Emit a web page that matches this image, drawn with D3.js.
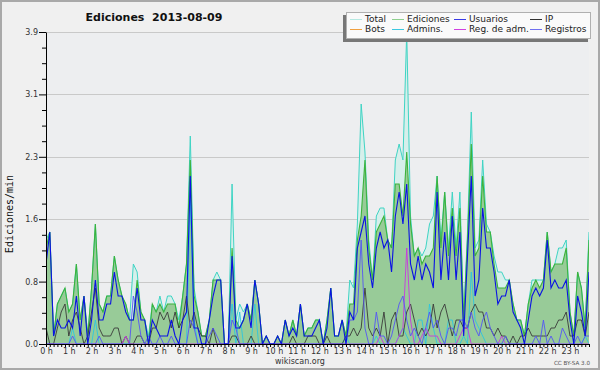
<!DOCTYPE html>
<html><head><meta charset="utf-8">
<script src="https://cdn.jsdelivr.net/npm/d3@7"></script>
<style>html,body{margin:0;padding:0;background:#f0f0f0;} svg{display:block;}</style>
</head><body><svg id="c" width="600" height="370"></svg>
<script>
// ---- data (edits per minute, 10-minute buckets, 144 per day) ----
const hourLabels = ["0 h","1 h","2 h","3 h","4 h","5 h","6 h","7 h","8 h","9 h","10 h","11 h","12 h","13 h","14 h","15 h","16 h","17 h","18 h","19 h","20 h","21 h","22 h","23 h"];
const yTickValues = [0, 0.78, 1.56, 2.34, 3.12, 3.9];
const yMinorValues = [0.195, 0.39, 0.585, 0.975, 1.17, 1.365, 1.755, 1.95, 2.145, 2.535, 2.73, 2.925, 3.315, 3.51, 3.705];
const legendNames = ["Total","Ediciones","Usuarios","IP","Bots","Admins.","Reg. de adm.","Registros"];
const legendColors = ["#b6e9e2","#8fd08f","#3a3ae6","#333333","#f0a040","#3cc8e0","#d040e0","#7070f0"];

const total = [
1.3,1.4,0.1,0.5,0.6,0.7, 0.4,0.5,1.0,0.3,0.6,0.1, 0.7,1.5,0.5,0.4,0.6,0.6, 1.1,0.8,0.6,0.5,0.3,1.0,
0.9,0.4,0.3,0.1,0.5,0.4, 0.6,0.4,0.6,0.6,0.5,0.3, 0.6,1.0,2.6,0.7,0.4,0.1, 0.1,0.3,0.8,0.9,0.8,0.0,
0.0,2.0,0.3,0.5,0.4,0.5, 0.3,0.8,0.5,0.0,0.1,0.0, 0.0,0.1,0.0,0.3,0.1,0.3, 0.1,0.5,0.1,0.2,0.2,0.3,
0.3,0.0,0.3,0.7,0.1,0.1, 0.3,0.1,0.8,0.7,1.5,3.0, 2.4,1.3,0.8,1.6,1.7,1.7, 1.3,1.2,2.3,2.5,2.3,3.9,
1.6,1.1,1.2,1.1,1.2,1.5, 1.6,2.1,1.3,1.9,1.2,1.9, 1.2,1.9,0.3,1.4,2.9,1.2, 1.3,2.3,1.5,1.4,1.1,0.9,
0.9,0.8,0.8,0.5,0.3,0.3, 0.1,0.5,0.8,0.8,0.8,0.8, 1.4,0.9,1.0,1.2,1.2,1.3, 0.4,0.1,0.9,0.7,0.2,1.4];
const ediciones = [
1.2,1.4,0.1,0.5,0.6,0.7, 0.4,0.5,1.0,0.3,0.6,0.1, 0.7,1.5,0.5,0.4,0.6,0.6, 1.1,0.8,0.6,0.5,0.3,0.3,
0.8,0.4,0.3,0.0,0.5,0.4, 0.5,0.4,0.5,0.5,0.5,0.2, 0.6,1.0,2.3,0.6,0.4,0.1, 0.1,0.3,0.8,0.8,0.8,0.0,
0.0,1.2,0.3,0.2,0.3,0.5, 0.3,0.8,0.5,0.0,0.1,0.0, 0.0,0.1,0.0,0.3,0.1,0.3, 0.1,0.5,0.1,0.2,0.2,0.3,
0.3,0.0,0.3,0.7,0.1,0.1, 0.3,0.1,0.5,0.5,1.3,1.6, 2.3,1.2,0.8,1.4,1.5,1.6, 1.3,1.2,2.0,2.0,1.6,2.4,
1.5,1.1,1.2,1.0,1.1,1.1, 1.2,2.1,1.2,1.9,1.1,1.7, 1.1,1.7,0.3,1.3,2.5,1.1, 1.2,2.1,1.4,1.4,1.0,0.7,
0.7,0.7,0.8,0.5,0.3,0.3, 0.1,0.5,0.7,0.8,0.7,0.8, 1.4,0.9,1.0,1.0,1.0,1.2, 0.4,0.1,0.9,0.7,0.2,1.3];
const usuarios = [
1.0,1.4,0.1,0.3,0.2,0.2, 0.3,0.2,0.6,0.1,0.6,0.0, 0.3,0.8,0.3,0.3,0.5,0.5, 0.9,0.6,0.6,0.4,0.3,0.3,
0.7,0.3,0.3,0.0,0.3,0.2, 0.1,0.1,0.1,0.3,0.1,0.0, 0.3,0.4,2.1,0.2,0.2,0.0, 0.0,0.3,0.6,0.8,0.8,0.0,
0.0,1.1,0.2,0.2,0.3,0.5, 0.2,0.8,0.5,0.0,0.1,0.0, 0.0,0.1,0.0,0.3,0.1,0.2, 0.1,0.5,0.1,0.1,0.1,0.2,
0.3,0.0,0.2,0.7,0.1,0.1, 0.3,0.0,0.4,0.3,1.2,1.4, 1.6,1.0,0.7,1.2,1.4,1.2, 1.3,0.9,1.6,1.9,1.5,2.0,
1.0,0.8,1.1,0.8,1.0,0.9, 0.7,1.9,0.8,1.4,0.8,1.6, 0.8,1.4,0.1,1.1,2.1,0.6, 0.8,1.7,1.2,1.2,0.9,0.5,
0.6,0.6,0.8,0.4,0.3,0.2, 0.0,0.3,0.6,0.7,0.6,0.7, 1.3,0.7,0.8,0.7,0.7,0.8, 0.3,0.0,0.6,0.4,0.1,0.9];
const ip = [
0.2,0.0,0.0,0.2,0.4,0.5, 0.1,0.3,0.4,0.2,0.0,0.1, 0.4,0.7,0.2,0.1,0.1,0.1, 0.2,0.2,0.0,0.1,0.0,0.0,
0.1,0.1,0.0,0.0,0.2,0.2, 0.4,0.3,0.4,0.2,0.4,0.2, 0.3,0.6,0.2,0.4,0.2,0.1, 0.1,0.0,0.2,0.0,0.0,0.0,
0.0,0.1,0.1,0.0,0.0,0.0, 0.1,0.0,0.0,0.0,0.0,0.0, 0.0,0.0,0.0,0.0,0.0,0.1, 0.0,0.0,0.0,0.1,0.1,0.1,
0.0,0.0,0.1,0.0,0.0,0.0, 0.0,0.1,0.1,0.2,0.1,0.2, 0.7,0.2,0.1,0.2,0.1,0.4, 0.0,0.3,0.4,0.1,0.1,0.4,
0.5,0.3,0.1,0.2,0.1,0.2, 0.5,0.2,0.4,0.5,0.3,0.1, 0.3,0.3,0.2,0.2,0.4,0.5, 0.4,0.4,0.2,0.2,0.1,0.2,
0.1,0.1,0.0,0.1,0.0,0.1, 0.1,0.2,0.1,0.1,0.1,0.1, 0.1,0.2,0.2,0.3,0.3,0.4, 0.1,0.1,0.3,0.3,0.1,0.4];
const admins = [
0,0,0,0,0,0, 0,0.2,0,0,0,0, 0,0.3,0,0,0,0, 0,0,0,0,0,0,
0,0,0,0,0,0, 0,0,0,0,0,0, 0,0,1.8,0.3,0,0, 0,0,0,0,0,0,
0,0.5,0,0.4,0,0, 0,0.5,0,0,0,0, 0,0,0,0,0,0, 0,0,0,0,0,0,
0,0,0,0,0,0, 0,0.1,0,0,0,0, 0,0,0,0.1,0,0, 0,0,0,0.1,0.2,0.1,
0,0,0.3,0.3,0,0.5, 0.2,0,0,0,0.3,0.3, 0,0,0.1,0,0.9,0.3, 0.2,0.1,0,0,0,0,
0,0,0,0,0,0, 0,0,0,0,0,0, 0,0,0,0,0,0, 0,0,0,0,0.1,0];
const registros = [
0,0,0,0,0,0, 0,0.1,0,0,0,0, 0,0,0.1,0,0,0, 0,0,0,0,0,0.6,
0.4,0.1,0,0.1,0,0, 0.1,0,0,0.1,0,0, 0,0,0.3,0.2,0,0, 0,0.1,0.2,0.1,0,0,
0,0.3,0.2,0,0,0, 0,0,0,0,0,0, 0,0,0,0,0,0, 0,0,0,0,0,0,
0,0,0,0,0,0, 0,0,0.3,0.3,0.4,1.3, 0.2,0,0,0.4,0.1,0.1, 0,0.1,0.3,0.5,0.6,0.3,
0.1,0.2,0.1,0,0.2,0.4, 0.2,0.3,0.1,0,0.2,0.2, 0.1,0.3,0.3,0.2,0.4,0.2, 0.1,0.3,0.4,0.2,0.1,0,
0,0.1,0,0,0,0, 0,0,0,0.1,0,0.3, 0,0.1,0,0,0.2,0.1, 0,0,0.1,0,0.1,0.1];
const regAdm = [
0,0,0,0,0,0, 0,0,0,0,0,0, 0,0,0,0,0,0, 0,0,0,0.1,0,0,
0,0,0,0,0,0, 0,0,0,0,0,0, 0,0,0,0,0,0, 0,0,0,0,0,0,
0,0,0,0,0,0, 0,0,0,0,0,0, 0,0,0,0,0,0, 0,0,0,0,0,0,
0,0,0,0,0,0, 0,0,0,0,0,0, 0,0,0,0,0.1,0, 0,0,0,0.1,0.2,1.2,
0.3,0,0,0.1,0.2,0.1, 0.1,0.1,0,0,0,0, 0,0.1,0.2,0.2,0,0, 0,0,0,0,0,0,
0.1,0,0,0,0,0, 0,0,0,0,0,0, 0,0,0,0,0,0, 0,0,0,0,0,0];

// ---- drawing ----
const svg = d3.select("#c");
const L = 46, R = 589, T = 32, B = 344;
const x = d3.scaleLinear().domain([0, total.length - 1]).range([L, R]);
const y = d3.scaleLinear().domain([0, 3.9]).range([B, T]);
const F = "'DejaVu Sans', Verdana, sans-serif";

svg.append("rect").attr("x",1).attr("y",1).attr("width",598).attr("height",368)
  .attr("fill","#f0f0f0").attr("stroke","#a9a9a9").attr("stroke-width",2);
svg.append("rect").attr("x",L).attr("y",T).attr("width",R-L).attr("height",B-T).attr("fill","#edeef0");

svg.append("defs").append("clipPath").attr("id","clip")
  .append("rect").attr("x",L).attr("y",T-1).attr("width",R-L).attr("height",B-T+1);

// gridlines
svg.append("g").selectAll("line").data(yTickValues.slice(1)).join("line")
  .attr("x1",L).attr("x2",R).attr("y1",d=>Math.round(y(d))+0.5).attr("y2",d=>Math.round(y(d))+0.5)
  .attr("stroke","#c9c9c9").attr("stroke-width",1);

const plot = svg.append("g").attr("clip-path","url(#clip)");
const area = d => d3.area().x((v,i)=>x(i)).y0(B).y1(v=>y(v))(d);
const line = d => d3.line().x((v,i)=>x(i)).y(v=>y(v))(d);

plot.append("path").attr("d",area(total)).attr("fill","#d6efeb");
plot.append("path").attr("d",area(ediciones)).attr("fill","#98cb98");
plot.append("path").attr("d",line(total)).attr("fill","none").attr("stroke","#3fd4c4").attr("stroke-width",1);
plot.append("path").attr("d",line(ediciones)).attr("fill","none").attr("stroke","#3cb33c").attr("stroke-width",1.1);
plot.append("path").attr("d",line(admins)).attr("fill","none").attr("stroke","#2cc6e0").attr("stroke-width",0.9);
plot.append("path").attr("d",line(ip)).attr("fill","none").attr("stroke","#3a3a3a").attr("stroke-width",0.9);
plot.append("path").attr("d",line(regAdm)).attr("fill","none").attr("stroke","#c838e0").attr("stroke-width",0.9);
plot.append("path").attr("d",line(registros)).attr("fill","none").attr("stroke","#5555f5").attr("stroke-width",0.9);
plot.append("path").attr("d",line(usuarios)).attr("fill","none").attr("stroke","#0a12e4").attr("stroke-width",1.1);

// axes
svg.append("g").attr("transform",`translate(${L},0)`)
  .call(d3.axisLeft(y).tickValues(yTickValues).tickSize(7).tickSizeOuter(0).tickPadding(1).tickFormat(d3.format(".1f")));
svg.append("g").attr("transform",`translate(${L},0)`)
  .call(d3.axisLeft(y).tickValues(yMinorValues).tickSize(4).tickSizeOuter(0).tickFormat(""))
  .select(".domain").remove();
svg.append("g").attr("transform",`translate(0,${B})`)
  .call(d3.axisBottom(x).tickValues(d3.range(total.length)).tickSize(3).tickSizeOuter(0).tickPadding(1)
    .tickFormat(i => i % 6 === 0 ? hourLabels[i/6] : ""));
svg.selectAll(".tick text").attr("font-family",F).attr("font-size",8).attr("fill","#333");
svg.selectAll(".domain, .tick line").attr("stroke","#000");

// titles
svg.append("text").attr("x",154).attr("y",21).attr("text-anchor","middle")
  .attr("font-family",F).attr("font-weight","bold").attr("font-size",11).attr("fill","#111")
  .text("Ediciones\u00a0\u00a02013-08-09");
svg.append("text").attr("transform","translate(13,214) rotate(-90)").attr("text-anchor","middle")
  .attr("font-family","'DejaVu Sans Mono', monospace").attr("font-size",10).attr("fill","#111")
  .text("Ediciones/min");
svg.append("text").attr("x",300).attr("y",364).attr("text-anchor","middle")
  .attr("font-family",F).attr("font-size",8).attr("fill","#333").text("wikiscan.org");
svg.append("text").attr("x",590).attr("y",365).attr("text-anchor","end")
  .attr("font-family",F).attr("font-size",5.6).attr("fill","#555").text("CC BY-SA 3.0");

// legend
const lg = svg.append("g");
lg.append("rect").attr("x",343).attr("y",15).attr("width",245).attr("height",27).attr("fill","#777");
lg.append("rect").attr("x",346.5).attr("y",12.5).attr("width",244).attr("height",26)
  .attr("fill","#fafafa").attr("stroke","#b0b0b0");
const colX = [350, 392, 454, 530];
legendNames.forEach((n,k) => {
  const cx = colX[k % 4], cy = k < 4 ? 19 : 29;
  lg.append("line").attr("x1",cx).attr("x2",cx+12).attr("y1",cy+0.5).attr("y2",cy+0.5)
    .attr("stroke",legendColors[k]).attr("stroke-width",1);
  lg.append("text").attr("x",cx+15).attr("y",cy+3).attr("font-family",F).attr("font-size",9)
    .attr("fill","#222").text(n);
});
</script></body></html>
